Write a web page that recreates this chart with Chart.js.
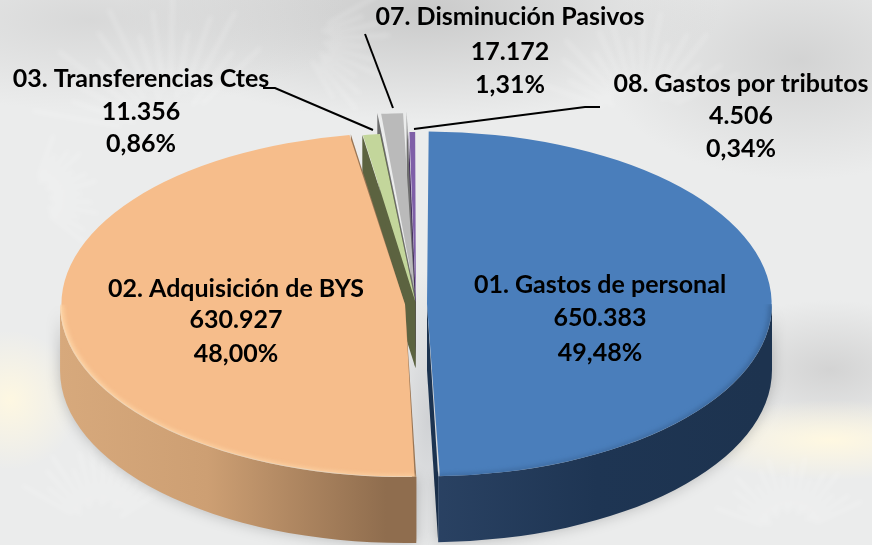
<!DOCTYPE html>
<html>
<head>
<meta charset="utf-8">
<title>Gastos</title>
<script src="https://cdn.jsdelivr.net/npm/chart.js@4"></script>
<style>
  html, body { margin: 0; padding: 0; }
  body {
    width: 872px; height: 545px; overflow: hidden;
    background:
      radial-gradient(ellipse 40px 150px at 428px 420px, rgba(205,207,210,.9), rgba(205,207,210,0)),
      radial-gradient(ellipse 70px 70px at 10px 400px, rgba(255,248,225,.95), rgba(255,248,225,0)),
      radial-gradient(ellipse 150px 40px at 830px 440px, rgba(255,248,225,1), rgba(255,248,225,0)),
      radial-gradient(ellipse 130px 70px at 830px 370px, rgba(205,205,205,.8), rgba(205,205,205,0)),
      radial-gradient(ellipse 260px 90px at 90px 20px, rgba(200,200,200,.55), rgba(200,200,200,0)),
      radial-gradient(ellipse 300px 110px at 420px 10px, rgba(190,190,190,.75), rgba(190,190,190,0)),
      radial-gradient(ellipse 200px 120px at 800px 60px, rgba(195,195,195,.6), rgba(195,195,195,0)),
      #ebecec;
  }
  canvas { display: block; }
</style>
</head>
<body>
<canvas id="pie" width="872" height="545"></canvas>
<script>
// values
const categories = [
  "01. Gastos de personal",
  "02. Adquisición de BYS",
  "03. Transferencias Ctes",
  "07. Disminución Pasivos",
  "08. Gastos por tributos"
];
const values = [650383, 630927, 11356, 17172, 4506];
const percents = ["49,48%", "48,00%", "0,86%", "1,31%", "0,34%"];

const topColors = ["#4a7ebb", "#f6bd8b", "#c3d69b", "#bababa", "#7f5fa8"];
const cutColors = ["#1c3350", "#9a7655", "#5c6340", "#6e6e6e", "#46305f"];
const offsets = [44, 44, 16, 100, 20];
const labelX = [600, 236, 141, 510, 741];
const labelY = [285, 289, 79, 17, 84];
const lineGap = [[33, 68], [31, 65], [33, 65], [35, 68], [32, 65]];
const leaders = [
  null,
  null,
  [[263, 88], [275, 88], [373, 130]],
  [[365, 34], [393, 108]],
  [[600, 107], [585, 107], [414, 129]]
];
// white wisps of the faded photo behind the chart: x, y, first angle, last angle, length
const fans = [
  [640, 120, -160, -20, 110],
  [170, 135, -170, -40, 140],
  [300, 40, -30, 60, 90],
  [100, 530, -150, -30, 90],
  [790, 535, -160, -20, 80],
  [30, 200, -70, 40, 70]
];

const CENTER_X = 416, CENTER_Y = 304, SQUASH = 0.5, DEPTH = 66 / SQUASH;
const BASE_RADIUS = 334;
const drawOrder = [4, 3, 2, 1, 0];

function sideGradient(ctx, i) {
  if (i === 1) {
    const g = ctx.createLinearGradient(60, 0, 417, 0);
    g.addColorStop(0, "#d9ab7e");
    g.addColorStop(0.5, "#cd9f73");
    g.addColorStop(1, "#8f6d4e");
    return g;
  }
  const g = ctx.createLinearGradient(440, 0, 772, 0);
  g.addColorStop(0, "#2a4263");
  g.addColorStop(0.5, "#1e3553");
  g.addColorStop(1, "#1d334f");
  return g;
}

// squashes the round pie of the library and gives it a wall
const pie3d = {
  id: "pie3d",
  beforeDraw(chart) {
    const ctx = chart.ctx;
    ctx.save();
    ctx.filter = "blur(2.5px)";
    ctx.strokeStyle = "rgba(255,255,255,.28)";
    ctx.lineWidth = 3;
    fans.forEach(([fx, fy, from, to, len]) => {
      for (let a = from, n = 0; a <= to; a += 9, n++) {
        const r = Math.PI * a / 180;
        const reach = len * (n % 3 === 0 ? 1 : n % 3 === 1 ? 0.75 : 0.9);
        ctx.beginPath();
        ctx.moveTo(fx + Math.cos(r) * reach * 0.35, fy + Math.sin(r) * reach * 0.35);
        ctx.lineTo(fx + Math.cos(r) * reach, fy + Math.sin(r) * reach);
        ctx.stroke();
      }
    });
    ctx.restore();
  },
  beforeDatasetDraw(chart, args) {
    const ctx = chart.ctx;
    const arcs = args.meta.data;
    const first = arcs[0];
    ctx.save();
    ctx.translate(CENTER_X, CENTER_Y);
    ctx.scale(1, SQUASH);
    ctx.translate(-first.x, -first.y);

    drawOrder.forEach(i => {
      const arc = arcs[i];
      const { x, y, startAngle, endAngle, outerRadius } = arc;
      const half = (startAngle + endAngle) / 2;
      // arc.draw moves the slice by offset / 4 and also grows its radius by that
      const off = arc.options.offset / 4;
      const r = outerRadius + off;
      const dx = Math.cos(half) * off, dy = Math.sin(half) * off;

      ctx.save();
      ctx.translate(dx, dy);
      // cut faces
      ctx.fillStyle = cutColors[i];
      [startAngle, endAngle].forEach(a => {
        ctx.beginPath();
        ctx.moveTo(x, y);
        ctx.lineTo(x + Math.cos(a) * r, y + Math.sin(a) * r);
        ctx.lineTo(x + Math.cos(a) * r, y + DEPTH + Math.sin(a) * r);
        ctx.lineTo(x, y + DEPTH);
        ctx.closePath();
        ctx.fill();
      });
      // outer wall, only the part that faces the viewer
      const a0 = Math.max(startAngle, 0), a1 = Math.min(endAngle, Math.PI);
      if (a1 > a0) {
        ctx.save();
        ctx.shadowColor = "rgba(0,0,0,.22)";
        ctx.shadowBlur = 14;
        ctx.fillStyle = sideGradient(ctx, i);
        ctx.beginPath();
        ctx.arc(x, y, r, a0, a1);
        ctx.arc(x, y + DEPTH, r, a1, a0, true);
        ctx.closePath();
        ctx.fill();
        ctx.restore();
      }
      ctx.restore();

      arc.draw(ctx);

      // soft bevel along the rim of the two big slices
      if (a1 > a0) {
        ctx.save();
        ctx.translate(dx, dy);
        ctx.beginPath();
        ctx.moveTo(x, y);
        ctx.arc(x, y, r, a0, a1);
        ctx.closePath();
        ctx.clip();
        ctx.filter = "blur(2px)";
        ctx.strokeStyle = i === 1 ? "#fdd3a4" : "#3d6a9f";
        ctx.lineWidth = 7;
        ctx.beginPath();
        ctx.arc(x, y, r, a0, a1);
        ctx.stroke();
        ctx.restore();
      }
    });
    ctx.restore();
    return false;
  },
  afterDraw(chart) {
    const ctx = chart.ctx;
    ctx.save();
    ctx.strokeStyle = "#000";
    ctx.lineWidth = 2;
    leaders.forEach(points => {
      if (!points) return;
      ctx.beginPath();
      points.forEach(([px, py], n) => n ? ctx.lineTo(px, py) : ctx.moveTo(px, py));
      ctx.stroke();
    });
    ctx.fillStyle = "#000";
    ctx.textAlign = "center";
    ctx.textBaseline = "middle";
    ctx.font = "bold 25px Lato, sans-serif";
    categories.forEach((name, i) => {
      ctx.fillText(name, labelX[i], labelY[i]);
      ctx.fillText(values[i].toLocaleString("de-DE"), labelX[i], labelY[i] + lineGap[i][0]);
      ctx.fillText(percents[i], labelX[i], labelY[i] + lineGap[i][1]);
    });
    ctx.restore();
  }
};

new Chart(document.getElementById("pie"), {
  type: "pie",
  data: {
    labels: categories,
    datasets: [{
      data: values,
      backgroundColor: topColors,
      borderWidth: 0,
      offset: offsets
    }]
  },
  options: {
    responsive: false,
    animation: false,
    radius: BASE_RADIUS,
    layout: { padding: 0 },
    plugins: { legend: { display: false }, tooltip: { enabled: false } }
  },
  plugins: [pie3d]
});
</script>
</body>
</html>
